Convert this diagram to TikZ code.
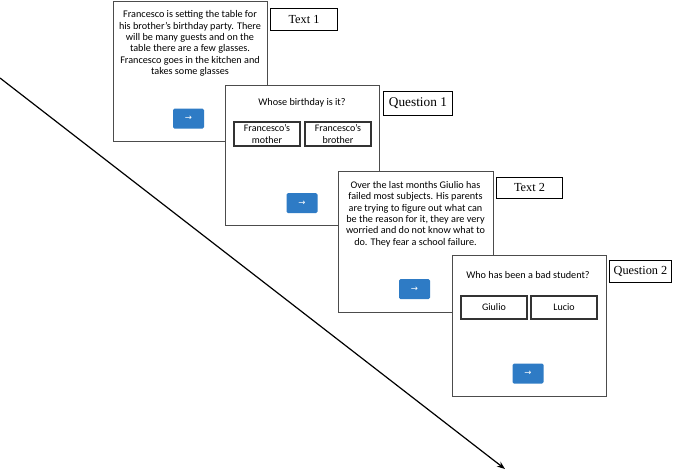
\documentclass[tikz,border=0pt]{standalone}
\usepackage{fontspec}
\setmainfont{Liberation Serif}
\newfontfamily\scrfont{Carlito}
\newfontfamily\symfont{DejaVu Sans}
\usetikzlibrary{arrows.meta}
\tikzset{
  screen/.style={draw=black!70, line width=1.2pt, fill=white, anchor=north west, inner sep=0pt},
  lab/.style={draw=black, line width=0.9pt, fill=white, anchor=north west, inner sep=0pt},
  labtext/.style={inner sep=0pt, font=\fontsize{12.3}{14}\selectfont},
  btn/.style={fill=blueBtn, rounded corners=1.5pt, minimum width=31pt, minimum height=20pt, inner sep=0pt, text=white, font=\symfont\fontsize{8.5}{9}\selectfont},
  ans/.style={draw=black!80, line width=1.1pt, fill=white, minimum width=66pt, minimum height=24pt, inner sep=0pt, align=center, font=\scrfont\fontsize{10}{11.3}\selectfont},
  para/.style={align=center, inner sep=0pt, font=\scrfont\fontsize{10.2}{11.4}\selectfont},
  timeline/.style={line width=1.2pt, -{Stealth[length=8pt,width=6pt]}}
}
\definecolor{blueBtn}{HTML}{2E7BC5}
\begin{document}
\begin{tikzpicture}[x=1pt,y=-1pt]
\useasboundingbox (0,0) rectangle (676,472);
% timeline arrow
\coordinate (t0) at (0,78);
\coordinate (t1) at (505,469);
\draw[timeline] (t0) -- (t1);
% screen 1
\node[screen, minimum width=154pt, minimum height=140pt] (s1) at (113,1) {};
\node[para] (p1) at (190,43.5) {Francesco is setting the table for\\his brother’s birthday party. There\\will be many guests and on the\\table there are a few glasses.\\Francesco goes in the kitchen and\\takes some glasses};
\node[btn] (b1) at (188.5,118.5) {→};
\node[lab, minimum width=67pt, minimum height=22pt] (l1) at (270,8) {};
\node[labtext] at (l1.center) {Text 1};
% screen 2
\node[screen, minimum width=154pt, minimum height=140pt] (s2) at (225,85) {};
\node[para] (q1) at (302,103) {Whose birthday is it?};
\node[ans] (a1) at (267,134) {Francesco’s\\mother};
\node[ans] (a2) at (338,134) {Francesco’s\\brother};
\node[btn] (b2) at (302,203) {→};
\node[lab, minimum width=69pt, minimum height=24pt] (l2) at (383,91) {};
\node[labtext, font=\fontsize{13.3}{15}\selectfont] at (l2.center) {Question 1};
% screen 3
\node[screen, minimum width=155pt, minimum height=141pt] (s3) at (338,171) {};
\node[para] (p3) at (415.5,214) {Over the last months Giulio has\\failed most subjects. His parents\\are trying to figure out what can\\be the reason for it, they are very\\worried and do not know what to\\do. They fear a school failure.};
\node[btn] (b3) at (414.5,289) {→};
\node[lab, minimum width=66pt, minimum height=21pt] (l3) at (496,177) {};
\node[labtext] at (l3.center) {Text 2};
% screen 4
\node[screen, minimum width=154pt, minimum height=141pt] (s4) at (452,255) {};
\node[para] (q2) at (528,275) {Who has been a bad student?};
\node[ans, minimum height=23pt] (a3) at (494,307.5) {Giulio};
\node[ans, minimum height=23pt] (a4) at (564,307.5) {Lucio};
\node[btn] (b4) at (528,373.5) {→};
\node[lab, minimum width=62pt, minimum height=22pt] (l4) at (609,260) {};
\node[labtext] at (l4.center) {Question 2};
\end{tikzpicture}
\end{document}
